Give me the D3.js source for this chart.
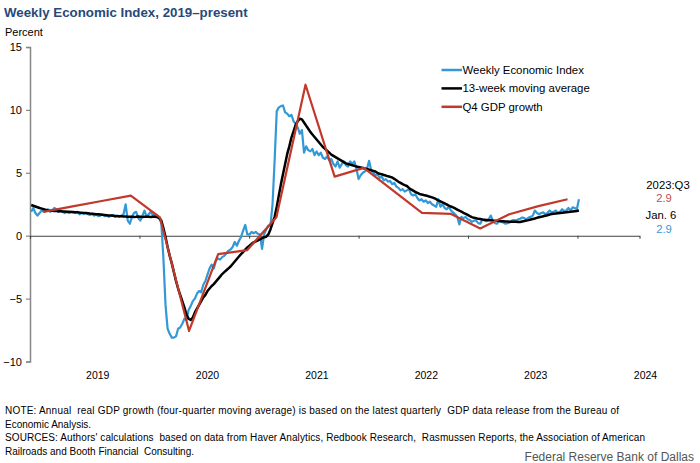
<!DOCTYPE html>
<html><head><meta charset="utf-8">
<script src="https://cdn.jsdelivr.net/npm/d3@7"></script>
<style>body{margin:0;background:#fff}svg{font-family:"Liberation Sans",Arial,sans-serif}</style>
</head><body><svg id="c" width="700" height="463"></svg>
<script>
// ---------------- DATA ----------------
const firstWeek = new Date(2019, 0, 5); // week ending Jan 5, 2019
const weiValues = [
 1.9,2.2,1.8,1.6,1.8,2.0,1.9,2.0,2.1,1.9,
 2.0,2.2,2.1,1.9,2.0,1.9,1.8,1.9,1.8,1.9,
 1.85,1.8,1.9,1.7,1.8,1.75,1.8,1.7,1.65,1.75,
 1.6,1.7,1.55,1.6,1.7,1.55,1.6,1.5,1.6,1.65,
 1.5,1.55,1.5,1.6,1.7,2.5,1.2,0.95,1.5,1.8,
 1.9,1.4,1.2,1.6,2.0,1.5,1.7,1.9,1.6,1.7,
 1.6,1.4,1.0,-1.8,-5.5,-7.4,-7.8,-8.1,-8.1,-8.0,
 -7.4,-7.3,-7.0,-6.6,-6.7,-5.9,-5.6,-5.2,-5.0,-4.6,
 -4.4,-4.5,-3.9,-3.6,-3.1,-2.6,-2.3,-2.6,-2.0,-1.8,
 -1.9,-1.7,-1.6,-1.4,-1.2,-1.1,-0.9,-0.5,-0.8,-0.4,
 -0.1,0.4,0.85,0.1,0.1,0.3,0.2,0.3,0.15,0.1,
 -1.05,0.1,0.5,0.8,0.8,2.5,6.0,9.9,10.2,10.3,
 10.35,9.8,9.7,9.5,9.6,9.1,8.9,8.6,8.1,8.4,
 6.6,7.1,6.8,6.7,6.9,6.4,6.7,6.4,6.6,6.2,
 6.1,6.3,6.0,6.1,5.7,5.5,5.9,5.4,5.7,5.9,
 5.6,5.5,5.9,5.7,5.9,5.3,4.5,4.8,5.0,5.1,
 5.3,5.95,5.2,5.0,4.8,4.9,4.6,4.7,4.4,4.5,
 4.3,4.35,4.1,4.2,3.9,3.8,3.6,3.7,3.5,3.6,
 3.7,3.3,3.2,3.3,3.0,2.8,2.9,2.7,2.8,2.6,
 2.7,2.5,2.4,2.3,2.9,2.3,2.5,2.2,2.1,2.3,
 2.0,1.85,1.7,1.5,0.9,1.5,1.4,1.5,1.3,1.25,
 1.1,1.2,1.2,1.0,0.95,1.3,1.2,1.15,1.3,1.6,
 1.2,1.0,0.95,1.2,1.1,1.05,0.95,1.0,1.05,1.2,
 1.25,1.2,1.3,1.35,1.45,1.4,1.3,1.45,1.5,1.6,
 2.0,1.8,1.7,1.8,1.85,1.7,1.8,2.0,1.85,1.9,
 2.0,1.8,1.9,2.1,1.95,2.0,2.2,2.0,2.25,2.2,
 2.1,2.9
];
const maValues = [
 2.44,2.38,2.32,2.26,2.2,2.15,2.1,2.05,2.0,1.99,
 1.98,1.97,1.96,1.95,1.94,1.93,1.92,1.91,1.9,1.89,
 1.88,1.87,1.86,1.84,1.83,1.81,1.8,1.78,1.76,1.75,
 1.73,1.71,1.7,1.68,1.66,1.65,1.63,1.61,1.6,1.59,
 1.57,1.56,1.55,1.54,1.53,1.52,1.5,1.5,1.51,1.49,
 1.5,1.52,1.5,1.48,1.5,1.51,1.5,1.49,1.5,1.5,
 1.48,1.4,1.2,0.6,-0.1,-0.9,-1.6,-2.2,-2.9,-3.6,
 -4.2,-4.7,-5.2,-5.7,-6.3,-6.6,-6.7,-6.5,-6.1,-5.8,
 -5.5,-5.2,-4.9,-4.7,-4.4,-4.2,-4.0,-3.85,-3.65,-3.45,
 -3.25,-3.05,-2.9,-2.75,-2.6,-2.45,-2.25,-2.05,-1.85,-1.65,
 -1.46,-1.3,-1.1,-0.93,-0.8,-0.65,-0.53,-0.45,-0.38,-0.3,
 -0.2,-0.12,-0.08,0.1,0.5,1.0,1.5,2.3,3.2,4.1,
 4.9,5.7,6.5,7.1,7.8,8.3,8.8,9.1,9.3,9.25,
 9.0,8.75,8.5,8.25,8.05,7.85,7.65,7.45,7.25,7.05,
 6.9,6.75,6.6,6.45,6.35,6.25,6.15,6.05,5.95,5.85,
 5.75,5.7,5.65,5.6,5.55,5.5,5.46,5.42,5.38,5.34,
 5.3,5.25,5.2,5.15,5.1,5.0,4.92,4.88,4.83,4.78,
 4.72,4.68,4.63,4.52,4.4,4.28,4.2,4.1,4.02,3.95,
 3.8,3.68,3.58,3.48,3.4,3.32,3.28,3.23,3.19,3.15,
 3.1,3.05,2.98,2.9,2.8,2.72,2.64,2.56,2.48,2.4,
 2.32,2.25,2.17,2.08,1.99,1.91,1.82,1.74,1.65,1.56,
 1.48,1.42,1.38,1.34,1.32,1.29,1.27,1.25,1.23,1.22,
 1.2,1.19,1.18,1.17,1.15,1.14,1.12,1.12,1.11,1.11,
 1.1,1.1,1.09,1.09,1.13,1.17,1.2,1.24,1.29,1.33,
 1.37,1.42,1.46,1.5,1.55,1.59,1.63,1.68,1.72,1.74,
 1.76,1.78,1.8,1.82,1.84,1.86,1.88,1.9,1.93,1.95,
 1.97,2.0
];
const gdpQuarters = ["2019:Q1","2019:Q2","2019:Q3","2019:Q4","2020:Q1","2020:Q2","2020:Q3","2020:Q4",
 "2021:Q1","2021:Q2","2021:Q3","2021:Q4","2022:Q1","2022:Q2","2022:Q3","2022:Q4","2023:Q1","2023:Q2","2023:Q3"];
const gdpValues = [1.9,2.33,2.76,3.19,1.46,-7.57,-1.46,-1.14,1.46,12.0,4.7,5.39,3.6,1.81,1.73,0.58,1.71,2.35,2.9];
const yTicks = [-10,-5,0,5,10,15];
const yearTicks = [2020,2021,2022,2023,2024];
const yearLabels = [2019,2020,2021,2022,2023,2024];
const legendLabels = ["Weekly Economic Index","13-week moving average","Q4 GDP growth"];
const noteLines = [
 "NOTE: Annual  real GDP growth (four-quarter moving average) is based on the latest quarterly  GDP data release from the Bureau of",
 "Economic Analysis.",
 "SOURCES: Authors' calculations  based on data from Haver Analytics, Redbook Research,  Rasmussen Reports, the Association of American",
 "Railroads and Booth Financial  Consulting."
];

// ---------------- CHART ----------------
const svg = d3.select("#c");
const C = {blue:"#3399d6", black:"#000000", red:"#c0392b", axis:"#868686"};

const x = d3.scaleTime().domain([new Date(2019,0,1), new Date(2024,6,26)]).range([30, 639.5]);
const y = d3.scaleLinear().domain([-10, 15]).range([361.5, 47]);
const xq = d3.scalePoint().domain(gdpQuarters).range([x(new Date(2019,1,15)), x(new Date(2023,10,29))]);

const weekDates = weiValues.map((_, i) => d3.timeDay.offset(firstWeek, 7 * i));

// title
svg.append("text").attr("x", 4).attr("y", 17).attr("fill", "#27497a")
  .attr("font-size", 13.3).attr("font-weight", "bold").text("Weekly Economic Index, 2019\u2013present");
svg.append("text").attr("x", 5).attr("y", 36).attr("font-size", 11).attr("fill", "#000").text("Percent");

// y axis
const yAxis = d3.axisLeft(y).tickValues(yTicks).tickSize(4).tickPadding(4).tickFormat(d3.format("d"));
const gy = svg.append("g").attr("transform", "translate(30,0)").call(yAxis);
gy.select(".domain").attr("stroke", C.axis).attr("stroke-width", 1.5);
gy.selectAll(".tick line").attr("stroke", C.axis).attr("stroke-width", 1.2);
gy.selectAll(".tick text").attr("font-size", 11).attr("fill", "#000")
  .attr("font-family", '"Liberation Sans",Arial,sans-serif');

// zero line with year ticks
const xAxis = d3.axisBottom(x).tickValues(yearTicks.map(yr => new Date(yr,0,1))).tickSize(3).tickFormat("");
const gx = svg.append("g").attr("transform", `translate(0,${y(0)})`).call(xAxis);
gx.select(".domain").attr("stroke", "#404040").attr("stroke-width", 1.1);
gx.selectAll(".tick line").attr("stroke", "#404040");

// year labels
svg.append("g").selectAll("text").data(yearLabels).join("text")
  .attr("x", d => x(new Date(d,7,15))).attr("y", 379).attr("text-anchor", "middle")
  .attr("font-size", 10.5).attr("fill", "#000").text(d => d);

// lines
const weiLine = d3.line().x((d, i) => x(weekDates[i])).y(d => y(d));
svg.append("path").datum(weiValues).attr("d", weiLine).attr("fill", "none")
  .attr("stroke", C.blue).attr("stroke-width", 2.2).attr("stroke-linejoin", "round");
svg.append("path").datum(maValues).attr("d", weiLine).attr("fill", "none")
  .attr("stroke", C.black).attr("stroke-width", 2.5).attr("stroke-linejoin", "round");
const gdpLine = d3.line().x((d, i) => xq(gdpQuarters[i])).y(d => y(d));
svg.append("path").datum(gdpValues).attr("d", gdpLine).attr("fill", "none")
  .attr("stroke", C.red).attr("stroke-width", 2.2).attr("stroke-linejoin", "round");

// legend
const lg = svg.append("g");
const lcol = [C.blue, C.black, C.red];
legendLabels.forEach((t, i) => {
  const yy = 70 + i * 18.4;
  lg.append("line").attr("x1", 441.5).attr("x2", 462).attr("y1", yy).attr("y2", yy)
    .attr("stroke", lcol[i]).attr("stroke-width", 2.5);
  lg.append("text").attr("x", 462.5).attr("y", yy + 4).attr("font-size", 11.4).attr("fill", "#000").text(t);
});

// right annotations
const lastQ = gdpQuarters[gdpQuarters.length - 1];
const lastGdp = gdpValues[gdpValues.length - 1];
const lastWei = weiValues[weiValues.length - 1];
const lastDate = weekDates[weekDates.length - 1];
const ann = svg.append("g").attr("font-size", 11.3).attr("text-anchor", "middle");
ann.append("text").attr("x", 668).attr("y", 188.5).attr("fill", "#000").text(lastQ);
ann.append("text").attr("x", 664).attr("y", 202).attr("fill", "#c0504d").text(d3.format(".1f")(lastGdp));
ann.append("text").attr("x", 661).attr("y", 218.5).attr("fill", "#000").text(d3.timeFormat("%b. %-d")(lastDate));
ann.append("text").attr("x", 664).attr("y", 233).attr("fill", C.blue).text(d3.format(".1f")(lastWei));

// notes
const ng = svg.append("g").attr("font-size", 10).attr("fill", "#000");
const noteY = [414, 427.5, 441, 454.5];
const noteWidths = [614, null, 640, null];
noteLines.forEach((t, i) => {
  const el = ng.append("text").attr("x", 5).attr("y", noteY[i]).attr("xml:space", "preserve").text(t);
  if (noteWidths[i]) el.attr("textLength", noteWidths[i]).attr("lengthAdjust", "spacing");
});
svg.append("text").attr("x", 694).attr("y", 461).attr("text-anchor", "end")
  .attr("font-size", 12).attr("fill", "#555").text("Federal Reserve Bank of Dallas");
</script></body></html>
